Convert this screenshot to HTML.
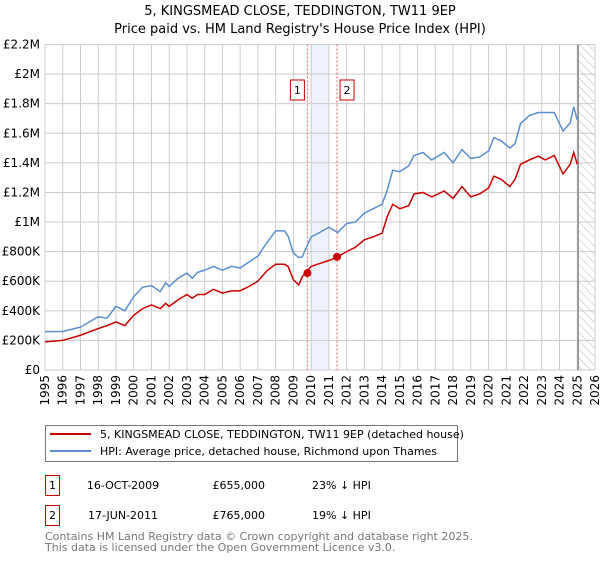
<!DOCTYPE html>
<html><head><meta charset="utf-8"><style>
body{margin:0;background:#fff;font-family:"DejaVu Sans","Liberation Sans",sans-serif;}
svg text{font-family:"DejaVu Sans","Liberation Sans",sans-serif;}
</style></head><body>
<svg id="chart" width="600" height="560" xmlns="http://www.w3.org/2000/svg">
<defs><pattern id="hatch" width="6" height="6" patternUnits="userSpaceOnUse" patternTransform="rotate(-45)"><line x1="0" y1="0" x2="0" y2="6" stroke="#bbb" stroke-width="1"/></pattern></defs>
<text x="300" y="15" text-anchor="middle" font-size="13">5, KINGSMEAD CLOSE, TEDDINGTON, TW11 9EP</text>
<text x="300" y="33" text-anchor="middle" font-size="13">Price paid vs. HM Land Registry's House Price Index (HPI)</text>
<g id="grid"></g><g id="marks"></g><g id="axes"></g>
<g>
<rect x="45.5" y="425.5" width="412" height="36" fill="#fff" stroke="#777"/>
<line x1="50" y1="434" x2="91" y2="434" stroke="#cc0000" stroke-width="2"/>
<text x="100" y="438" font-size="11">5, KINGSMEAD CLOSE, TEDDINGTON, TW11 9EP (detached house)</text>
<line x1="50" y1="451" x2="91" y2="451" stroke="#5b8fd0" stroke-width="2"/>
<text x="100" y="455" font-size="11">HPI: Average price, detached house, Richmond upon Thames</text>
</g>
<g font-size="11">
<rect x="45.5" y="475.5" width="14" height="20" fill="#fff" stroke="#cc0000"/><text x="52.5" y="489" text-anchor="middle">1</text>
<text x="123" y="489" text-anchor="middle">16-OCT-2009</text><text x="265" y="489" text-anchor="end">£655,000</text><text x="312" y="489">23% ↓ HPI</text>
<rect x="45.5" y="505.5" width="14" height="20" fill="#fff" stroke="#cc0000"/><text x="52.5" y="519" text-anchor="middle">2</text>
<text x="123" y="519" text-anchor="middle">17-JUN-2011</text><text x="265" y="519" text-anchor="end">£765,000</text><text x="312" y="519">19% ↓ HPI</text>
</g>
<text x="45" y="540" font-size="11" fill="#777">Contains HM Land Registry data © Crown copyright and database right 2025.</text>
<text x="45" y="551" font-size="11" fill="#777">This data is licensed under the Open Government Licence v3.0.</text>
</svg>
<script>
const hpiYears=[1995,1996,1997,1998,1998.5,1999,1999.5,2000,2000.5,2001,2001.5,2001.8,2002,2002.5,2003,2003.3,2003.6,2004,2004.5,2005,2005.5,2006,2006.5,2007,2007.5,2008,2008.5,2008.7,2009,2009.3,2009.5,2010,2010.5,2011,2011.5,2012,2012.5,2013,2013.5,2014,2014.3,2014.6,2015,2015.5,2015.8,2016.3,2016.8,2017.5,2018,2018.5,2019,2019.5,2020,2020.3,2020.7,2021.2,2021.5,2021.8,2022.3,2022.8,2023.2,2023.7,2024.2,2024.6,2024.8,2025.0];
const hpiValues=[0.259,0.26,0.29,0.36,0.35,0.43,0.40,0.495,0.56,0.57,0.53,0.59,0.565,0.62,0.655,0.62,0.66,0.675,0.70,0.675,0.70,0.69,0.73,0.77,0.86,0.94,0.94,0.905,0.79,0.76,0.765,0.90,0.93,0.965,0.93,0.99,1.0,1.06,1.09,1.12,1.22,1.35,1.34,1.38,1.45,1.47,1.42,1.47,1.40,1.49,1.43,1.44,1.48,1.57,1.55,1.50,1.53,1.665,1.72,1.74,1.74,1.74,1.615,1.67,1.78,1.69];
const priceValues=[0.19,0.20,0.235,0.28,0.30,0.325,0.30,0.37,0.415,0.44,0.415,0.45,0.43,0.475,0.51,0.485,0.51,0.51,0.545,0.52,0.535,0.535,0.565,0.60,0.67,0.715,0.715,0.70,0.61,0.575,0.63,0.70,0.72,0.74,0.765,0.80,0.83,0.88,0.90,0.925,1.04,1.12,1.09,1.11,1.19,1.20,1.17,1.21,1.16,1.24,1.17,1.19,1.23,1.31,1.29,1.24,1.29,1.39,1.42,1.445,1.42,1.45,1.325,1.39,1.47,1.39];
const saleDates=[2009.79,2011.46];
const saleValues=[0.655,0.765];
const saleLabels=["1","2"];
const yTicks=[0,0.2,0.4,0.6,0.8,1.0,1.2,1.4,1.6,1.8,2.0,2.2];
const yTickLabels=["£0","£200K","£400K","£600K","£800K","£1M","£1.2M","£1.4M","£1.6M","£1.8M","£2M","£2.2M"];
const xTicks=[1995,1996,1997,1998,1999,2000,2001,2002,2003,2004,2005,2006,2007,2008,2009,2010,2011,2012,2013,2014,2015,2016,2017,2018,2019,2020,2021,2022,2023,2024,2025,2026];
const X0=45,X1=595,Y0=370,Y1=44.5;
const x=v=>X0+(v-1995)*(X1-X0)/31;
const y=v=>Y0-v*(Y0-Y1)/2.2;
const NS="http://www.w3.org/2000/svg";
function mk(tag,parent,attrs){const e=document.createElementNS(NS,tag);for(const k in attrs)e.setAttribute(k,attrs[k]);document.getElementById(parent).appendChild(e);return e;}
let e;
e=mk('rect','grid',{x:x(2010),y:Y1,width:x(2011)-x(2010),height:Y0-Y1,fill:'#eef2fc'});


xTicks.forEach(t=>{e=mk('line','grid',{x1:x(t),x2:x(t),y1:Y1,y2:Y0,stroke:'#ccc'});

});
yTicks.forEach(t=>{e=mk('line','grid',{x1:X0,x2:X1,y1:y(t),y2:y(t),stroke:'#ccc'});

});
e=mk('rect','grid',{x:x(2025.05),y:Y1,width:X1-x(2025.05),height:Y0-Y1,fill:'url(#hatch)'});


e=mk('line','grid',{x1:x(2025.05),x2:x(2025.05),y1:Y1,y2:Y0,stroke:'#888','stroke-width':1.5});


saleDates.forEach((d,i)=>{e=mk('line','marks',{x1:x(d),x2:x(d),y1:Y1,y2:Y0,stroke:'#f06060','stroke-dasharray':'2,2'});

});
e=mk('polyline','marks',{points:hpiYears.map((d,i)=>x(d)+','+y(hpiValues[i])).join(' '),fill:'none',stroke:'#5b8fd0','stroke-width':1.5});


e=mk('polyline','marks',{points:hpiYears.map((d,i)=>x(d)+','+y(priceValues[i])).join(' '),fill:'none',stroke:'#cc0000','stroke-width':1.5});


saleDates.forEach((d,i)=>{e=mk('circle','marks',{cx:x(d),cy:y(saleValues[i]),r:4,fill:'#cc0000'});


const bx=x(d)-(i===0?9:-3)-7;
e=mk('rect','marks',{x:x(d)-(i===0?17:-3),y:80,width:14,height:20,fill:'#fff',stroke:'#cc0000'});


e=mk('text','marks',{x:x(d)-(i===0?10:-10),y:94,'text-anchor':'middle','font-size':11});
e.textContent=saleLabels[i];

});
yTicks.forEach((t,i)=>{e=mk('text','axes',{x:40,y:y(t)+4,'text-anchor':'end','font-size':12});
e.textContent=yTickLabels[i];

});
xTicks.forEach(t=>{e=mk('text','axes',{transform:`translate(${x(t)+4},375) rotate(-90)`,'text-anchor':'end','font-size':12});
e.textContent=t;

});
</script>
</body></html>
